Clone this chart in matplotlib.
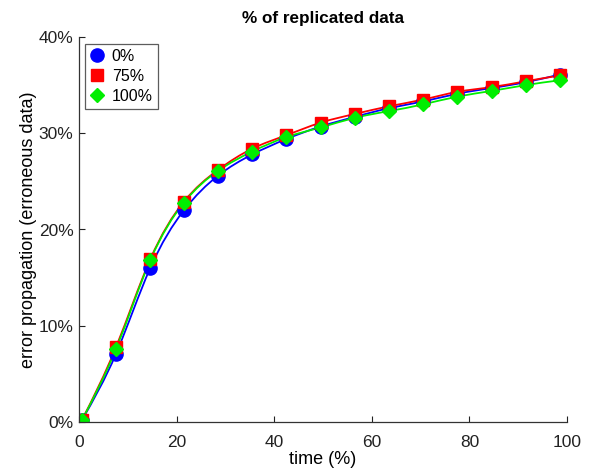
import numpy as np
import matplotlib
matplotlib.use("Agg")
import matplotlib.pyplot as plt
from matplotlib.path import Path
from matplotlib.patches import PathPatch
from matplotlib.ticker import FuncFormatter

plt.rcParams['font.family'] = ['Liberation Sans', 'DejaVu Sans']

# time (%) at which the error propagation was sampled
t = [0.6, 7.6, 14.6, 21.5, 28.5, 35.5, 42.5, 49.5, 56.5, 63.5, 70.5, 77.5, 84.6, 91.5, 98.5]

# error propagation (%) for each share of replicated data
err_0 = [0.2, 7.1, 16.0, 22.0, 25.6, 27.8, 29.4, 30.7, 31.7, 32.6, 33.3, 34.1, 34.7, 35.3, 36.1]
err_75 = [0.2, 7.8, 16.9, 22.9, 26.2, 28.4, 29.8, 31.1, 32.0, 32.8, 33.5, 34.3, 34.8, 35.4, 36.0]
err_100 = [0.2, 7.6, 16.8, 22.8, 26.1, 28.1, 29.6, 30.6, 31.6, 32.3, 33.0, 33.8, 34.4, 35.0, 35.5]

series = [
    ("0%", err_0, "#0000ff", "o", 9.5),
    ("75%", err_75, "#ff0000", "s", 9),
    ("100%", err_100, "#00ee00", "D", 7.5),
]


def spline_path(x, y):
    # natural cubic spline through the points, drawn as bezier segments
    x = np.asarray(x, float)
    y = np.asarray(y, float)
    n = len(x)
    h = np.diff(x)
    A = np.zeros((n, n))
    b = np.zeros(n)
    A[0, 0] = A[-1, -1] = 1
    for i in range(1, n - 1):
        A[i, i - 1] = h[i - 1]
        A[i, i] = 2 * (h[i - 1] + h[i])
        A[i, i + 1] = h[i]
        b[i] = 6 * ((y[i + 1] - y[i]) / h[i] - (y[i] - y[i - 1]) / h[i - 1])
    M = np.linalg.solve(A, b)
    d = np.zeros(n)
    d[:-1] = (y[1:] - y[:-1]) / h - h * (2 * M[:-1] + M[1:]) / 6
    d[-1] = (y[-1] - y[-2]) / h[-1] + h[-1] * (M[-2] + 2 * M[-1]) / 6
    verts = [(x[0], y[0])]
    codes = [Path.MOVETO]
    for i in range(n - 1):
        verts += [(x[i] + h[i] / 3, y[i] + d[i] * h[i] / 3),
                  (x[i + 1] - h[i] / 3, y[i + 1] - d[i + 1] * h[i] / 3),
                  (x[i + 1], y[i + 1])]
        codes += [Path.CURVE4] * 3
    return Path(verts, codes)


fig = plt.figure(figsize=(5.89, 4.69), dpi=100)
ax = fig.add_axes([79 / 589, 1 - 422 / 469, 488 / 589, 385 / 469])

for label, y, col, mk, ms in series:
    ax.add_patch(PathPatch(spline_path(t, y), facecolor="none", edgecolor=col, lw=1.3))
    ax.plot(t, y, ls="none", marker=mk, ms=ms, mfc=col, mec=col, label=label)

ax.set_xlim(0, 100)
ax.set_ylim(0, 40)
ax.set_xticks([0, 20, 40, 60, 80, 100])
ax.set_yticks([0, 10, 20, 30, 40])
ax.yaxis.set_major_formatter(FuncFormatter(lambda v, p: "%d%%" % v))
ax.tick_params(direction="in", length=4, width=0.8, labelsize=12.5, colors="#222222")
ax.tick_params(axis="x", pad=9)
ax.tick_params(axis="y", pad=4)
for s in ["top", "right"]:
    ax.spines[s].set_visible(False)
for s in ["left", "bottom"]:
    ax.spines[s].set_color("#333333")
    ax.spines[s].set_linewidth(0.9)

ax.set_xlabel("time (%)", fontsize=13, labelpad=1)
ax.set_ylabel("error propagation (erroneous data)", fontsize=13, labelpad=1)
ax.set_title("% of replicated data", fontsize=12.3, fontweight="bold", pad=10)

leg = ax.legend(loc="upper left", bbox_to_anchor=(0.005, 0.99), fontsize=11.5,
                frameon=True, fancybox=False, edgecolor="#333333",
                handlelength=0.9, handletextpad=0.5, borderpad=0.3,
                labelspacing=0.32, borderaxespad=0.2)
leg.get_frame().set_linewidth(0.9)

fig.savefig("out.png", dpi=100)
